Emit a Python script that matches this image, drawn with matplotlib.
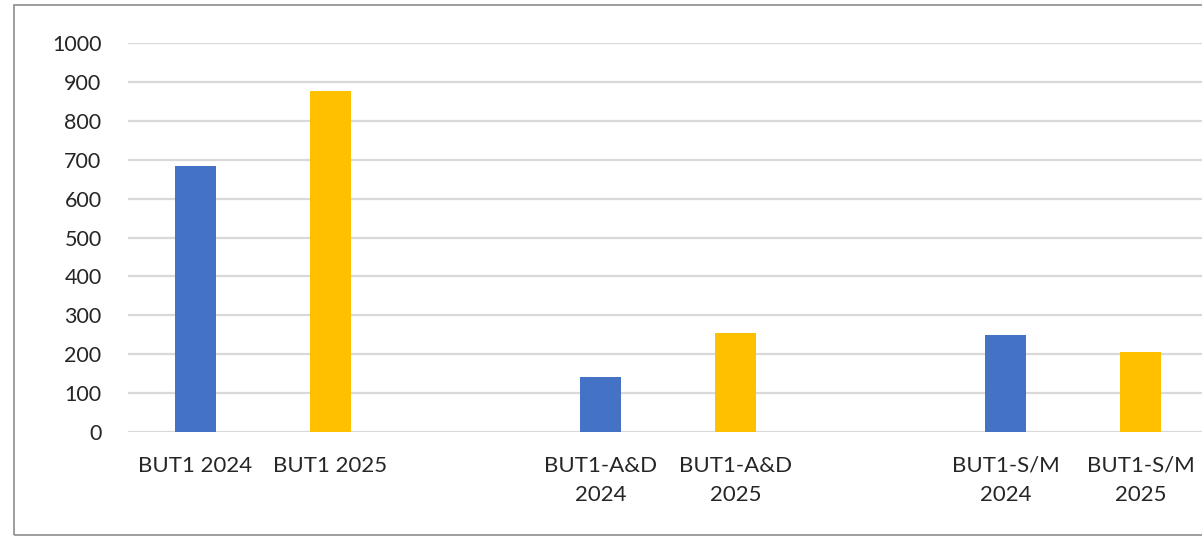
import matplotlib.pyplot as plt
from matplotlib.patches import Rectangle

# slots: empty strings are the gaps between groups
categories = ["BUT1 2024", "BUT1 2025", "",
              "BUT1-A&D\n2024", "BUT1-A&D\n2025", "",
              "BUT1-S/M\n2024", "BUT1-S/M\n2025"]
values = [684, 877, None, 141, 254, None, 249, 206]
colors = ["#4472C4", "#FFC000", None, "#4472C4", "#FFC000", None, "#4472C4", "#FFC000"]
y_ticks = [0, 100, 200, 300, 400, 500, 600, 700, 800, 900, 1000]

plt.rcParams['font.family'] = ['Lato', 'DejaVu Sans']

W, H = 1202, 538
fig = plt.figure(figsize=(W / 100, H / 100), dpi=100)

# outer frame of the chart (clipped on the right like the screenshot)
fig.patches.append(Rectangle((14 / W, 1 - 535 / H), 1.0, (535 - 5) / H,
                             transform=fig.transFigure, fill=False,
                             edgecolor="#8c8c8c", linewidth=1.2))

ax = fig.add_axes([128 / W, (H - 432) / H, (W - 128) / W, 389 / H])

xs = [i for i, v in enumerate(values) if v is not None]
ax.bar(xs, [values[i] for i in xs], width=0.31,
       color=[colors[i] for i in xs], zorder=3)

ax.set_xlim(-0.5, -0.5 + (W - 128) / 135)
ax.set_ylim(0, 1000)
ax.set_yticks(y_ticks)
ax.set_xticks(range(len(categories)))
ax.set_xticklabels(categories, fontsize=16, color="#262626", linespacing=1.6)
ax.tick_params(axis='y', length=0, pad=19, labelsize=15.5, labelcolor="#262626")
ax.tick_params(axis='x', length=0, pad=17)

ax.grid(axis='y', color="#d9d9d9", linewidth=1.6, zorder=0)
for s in ax.spines.values():
    s.set_visible(False)

fig.savefig("out.png", dpi=100)
